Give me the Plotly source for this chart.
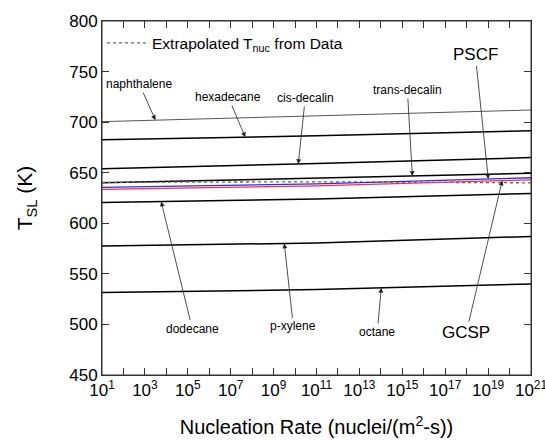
import numpy as np
import plotly.graph_objects as go

# Nucleation rate sample points (nuclei/(m^2-s))
rate = [1e1, 1e11, 1e21]

# T_SL (K) at each sample point
naphthalene = [700.5, 706.5, 712.0]
hexadecane = [682.5, 686.5, 691.5]
cis_decalin = [654.0, 659.0, 665.0]
trans_decalin = [640.0, 644.5, 649.5]
extrapolated = [640.5, 641.0, 640.0]
pscf = [635.5, 639.0, 645.0]
gcsp = [633.5, 637.0, 643.0]
dodecane = [620.5, 624.0, 629.5]
p_xylene = [577.5, 580.5, 587.0]
octane = [531.5, 534.5, 540.0]

x_exponents = list(range(1, 22))
x_ticktext = [f"10<sup>{k}</sup>" if k % 2 == 1 else "" for k in x_exponents]
y_ticks = [450, 500, 550, 600, 650, 700, 750, 800]

FONT = "Liberation Sans, Arial, sans-serif"

fig = go.Figure()

def add_line(y, color, width, dash="solid", name=None, legend=False):
    fig.add_trace(go.Scatter(x=rate, y=y, mode="lines",
                             line=dict(color=color, width=width, dash=dash),
                             name=name, showlegend=legend, hoverinfo="skip"))

add_line(naphthalene, "#555555", 1.0)
add_line(hexadecane, "black", 1.5)
add_line(cis_decalin, "black", 1.5)
add_line(trans_decalin, "black", 1.5)
add_line(dodecane, "black", 1.5)
add_line(p_xylene, "black", 1.5)
add_line(octane, "black", 1.5)
add_line(extrapolated, "#666666", 1.3, dash="dot",
         name="Extrapolated T<sub>nuc</sub> from Data", legend=True)
add_line(gcsp, "#ff3030", 1.3)
add_line(pscf, "#2a2aff", 1.3)

lx = np.log10(rate)

# label, series, head log10(x), tail offset ax, ay (px), font size
labels = [
    ("naphthalene", naphthalene, 3.49, -16, -36, 12),
    ("hexadecane", hexadecane, 7.68, -17, -40, 12),
    ("cis-decalin", cis_decalin, 10.15, 7, -66, 12),
    ("trans-decalin", trans_decalin, 15.47, -5, -86, 12),
    ("PSCF", pscf, 19.01, -13, -124, 17),
    ("GCSP", gcsp, 19.66, -36, 152, 17),
    ("dodecane", dodecane, 3.76, 31, 127, 12),
    ("p-xylene", p_xylene, 9.50, 9, 83, 12),
    ("octane", octane, 14.02, -4, 44, 12),
]
for text, series, hx, ax, ay, fs in labels:
    hy = float(np.interp(hx, lx, series))
    fig.add_annotation(x=hx, y=hy, xref="x", yref="y", text=text,
                       showarrow=True, ax=ax, ay=ay, arrowhead=2,
                       arrowsize=1.2, arrowwidth=0.8, arrowcolor="#222222",
                       font=dict(family=FONT, size=fs, color="black"))

# plot frame
fig.add_shape(type="rect", xref="paper", yref="paper", x0=0, y0=0, x1=1, y1=1,
              line=dict(color="#333333", width=1), layer="above")

fig.update_layout(
    width=545, height=442,
    margin=dict(l=102, r=14, t=21, b=67),
    paper_bgcolor="white", plot_bgcolor="white",
    font=dict(family=FONT, color="black"),
    legend=dict(x=0.0, y=0.985, xanchor="left", yanchor="top",
                itemwidth=40, bgcolor="rgba(0,0,0,0)",
                font=dict(size=15.5, family=FONT)),
)
fig.update_xaxes(
    type="log", range=[1, 21.0001], automargin=False,
    ticklabeloverflow="allow",
    tickvals=[10.0 ** k for k in x_exponents], ticktext=x_ticktext,
    ticks="inside", ticklen=7, tickcolor="#333333", mirror="ticks",
    showline=True, linecolor="#333333", linewidth=1, showgrid=False,
    zeroline=False, tickfont=dict(size=17),
    title=dict(text="Nucleation Rate (nuclei/(m<sup>2</sup>-s))",
               font=dict(size=20), standoff=20),
)
fig.update_yaxes(
    range=[450, 800], tickvals=y_ticks, automargin=False,
    ticklabeloverflow="allow",
    ticks="inside", ticklen=7, tickcolor="#333333", mirror="ticks",
    showline=True, linecolor="#333333", linewidth=1, showgrid=False,
    zeroline=False, tickfont=dict(size=17),
    title=dict(text="T<sub>SL</sub> (K)", font=dict(size=21), standoff=30),
)

fig.write_html(
    "out.html",
    config={"displayModeBar": False},
    post_script="document.body.style.margin='0';document.body.style.overflow='hidden';",
)
